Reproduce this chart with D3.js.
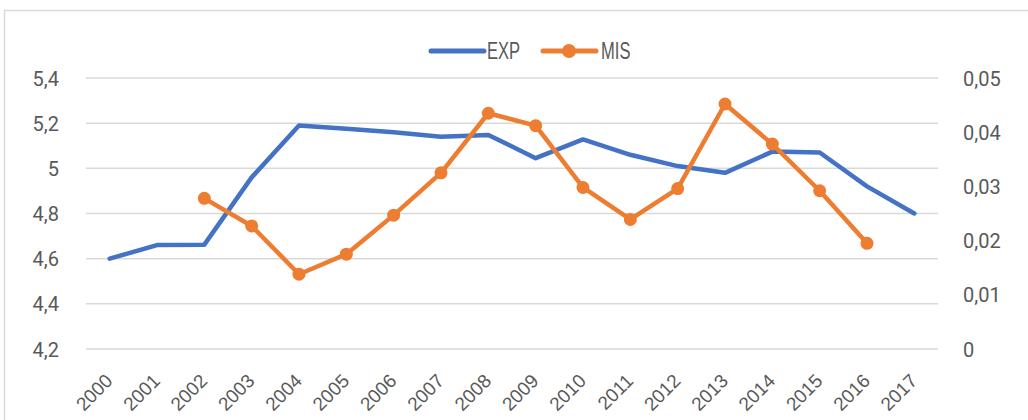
<!DOCTYPE html>
<html>
<head>
<meta charset="utf-8">
<script src="https://cdn.jsdelivr.net/npm/d3@7"></script>
<style>
  body { margin: 0; background: #fff; }
  .tick text { fill: #595959; }
</style>
</head>
<body>
<div id="chart"></div>
<script>
// données
const years = ['2000','2001','2002','2003','2004','2005','2006','2007','2008',
  '2009','2010','2011','2012','2013','2014','2015','2016','2017'];
const exp = [4.60, 4.66, 4.662, 4.96, 5.19, 5.175, 5.16, 5.14, 5.148,
  5.045, 5.128, 5.06, 5.01, 4.98, 5.074, 5.07, 4.92, 4.80];
const mis = [null, null, 0.0278, 0.0227, 0.0138, 0.0175, 0.0247, 0.0325, 0.0435,
  0.0412, 0.0298, 0.0239, 0.0296, 0.0452, 0.0378, 0.0292, 0.0195, null];
const leftTicks = [4.2, 4.4, 4.6, 4.8, 5, 5.2, 5.4];
const rightTicks = [0, 0.01, 0.02, 0.03, 0.04, 0.05];
const seriesNames = ['EXP', 'MIS'];

const width = 1028, height = 420;
const margin = {top: 78, right: 90, bottom: 71, left: 86};

const svg = d3.select('#chart').append('svg')
  .attr('width', width)
  .attr('height', height);

// cadre
svg.append('rect')
  .attr('x', 4.5).attr('y', 10.5)
  .attr('width', 1040).attr('height', 430)
  .attr('fill', 'none')
  .attr('stroke', '#d9d9d9')
  .attr('stroke-width', 1.5);

const x = d3.scaleBand().domain(years)
  .range([margin.left, width - margin.right]);
const yL = d3.scaleLinear().domain([4.2, 5.4])
  .range([height - margin.bottom, margin.top]);
const yR = d3.scaleLinear().domain([0, 0.05])
  .range([height - margin.bottom, margin.top]);

const fmt = d => String(+d.toFixed(2)).replace('.', ',');

// grille
svg.append('g')
  .selectAll('line')
  .data(leftTicks)
  .enter().append('line')
  .attr('x1', margin.left).attr('x2', width - margin.right)
  .attr('y1', d => yL(d)).attr('y2', d => yL(d))
  .attr('stroke', '#d9d9d9')
  .attr('stroke-width', 1.5);

// axe gauche
const gL = svg.append('g')
  .attr('transform', `translate(${margin.left - 24},0)`)
  .call(d3.axisLeft(yL).tickValues(leftTicks).tickFormat(fmt).tickSize(0));
gL.select('.domain').remove();
gL.selectAll('text')
  .style('font-family', 'Roboto, sans-serif')
  .style('font-size', '20px')
  .attr('dy', '0.35em');

// axe droit
const gR = svg.append('g')
  .attr('transform', `translate(${width - margin.right + 22},0)`)
  .call(d3.axisRight(yR).tickValues(rightTicks).tickFormat(fmt).tickSize(0));
gR.select('.domain').remove();
gR.selectAll('text')
  .style('font-family', 'Roboto, sans-serif')
  .style('font-size', '20px')
  .attr('dy', '0.35em');

// axe x
const gX = svg.append('g')
  .attr('transform', `translate(0,${height - margin.bottom})`)
  .call(d3.axisBottom(x).tickSize(0));
gX.select('.domain').remove();
gX.selectAll('text')
  .style('font-family', '"Liberation Sans", sans-serif')
  .style('font-size', '19px')
  .attr('text-anchor', 'end')
  .attr('dy', 0)
  .attr('transform', 'translate(2,31) rotate(-45)');

const cx = d => x(d) + x.bandwidth() / 2;

// EXP
svg.append('path')
  .datum(years.map((d, i) => [d, exp[i]]))
  .attr('fill', 'none')
  .attr('stroke', '#4472C4')
  .attr('stroke-width', 4.5)
  .attr('stroke-linejoin', 'round')
  .attr('stroke-linecap', 'round')
  .attr('d', d3.line().x(d => cx(d[0])).y(d => yL(d[1])));

// MIS
const misPts = years.map((d, i) => [d, mis[i]]).filter(d => d[1] != null);
svg.append('path')
  .datum(misPts)
  .attr('fill', 'none')
  .attr('stroke', '#ED7D31')
  .attr('stroke-width', 4.5)
  .attr('stroke-linejoin', 'round')
  .attr('d', d3.line().x(d => cx(d[0])).y(d => yR(d[1])));
svg.append('g')
  .selectAll('circle')
  .data(misPts)
  .enter().append('circle')
  .attr('cx', d => cx(d[0]))
  .attr('cy', d => yR(d[1]))
  .attr('r', 6.5)
  .attr('fill', '#ED7D31');

// légende
const lg = svg.append('g').attr('transform', 'translate(0,51)');
const legendFont = lbl => lbl
  .style('font-family', '"Liberation Sans", sans-serif')
  .style('font-size', '23px').attr('fill', '#595959');
lg.append('line')
  .attr('x1', 431).attr('x2', 484).attr('y1', 0).attr('y2', 0)
  .attr('stroke', '#4472C4').attr('stroke-width', 5).attr('stroke-linecap', 'round');
lg.append('text')
  .attr('transform', 'translate(487,0) scale(0.72,1)')
  .attr('dy', '0.36em')
  .call(legendFont)
  .text(seriesNames[0]);
lg.append('line')
  .attr('x1', 543).attr('x2', 596).attr('y1', 0).attr('y2', 0)
  .attr('stroke', '#ED7D31').attr('stroke-width', 5).attr('stroke-linecap', 'round');
lg.append('circle')
  .attr('cx', 569).attr('cy', 0).attr('r', 7).attr('fill', '#ED7D31');
lg.append('text')
  .attr('transform', 'translate(601,0) scale(0.72,1)')
  .attr('dy', '0.36em')
  .call(legendFont)
  .text(seriesNames[1]);
</script>
</body>
</html>
